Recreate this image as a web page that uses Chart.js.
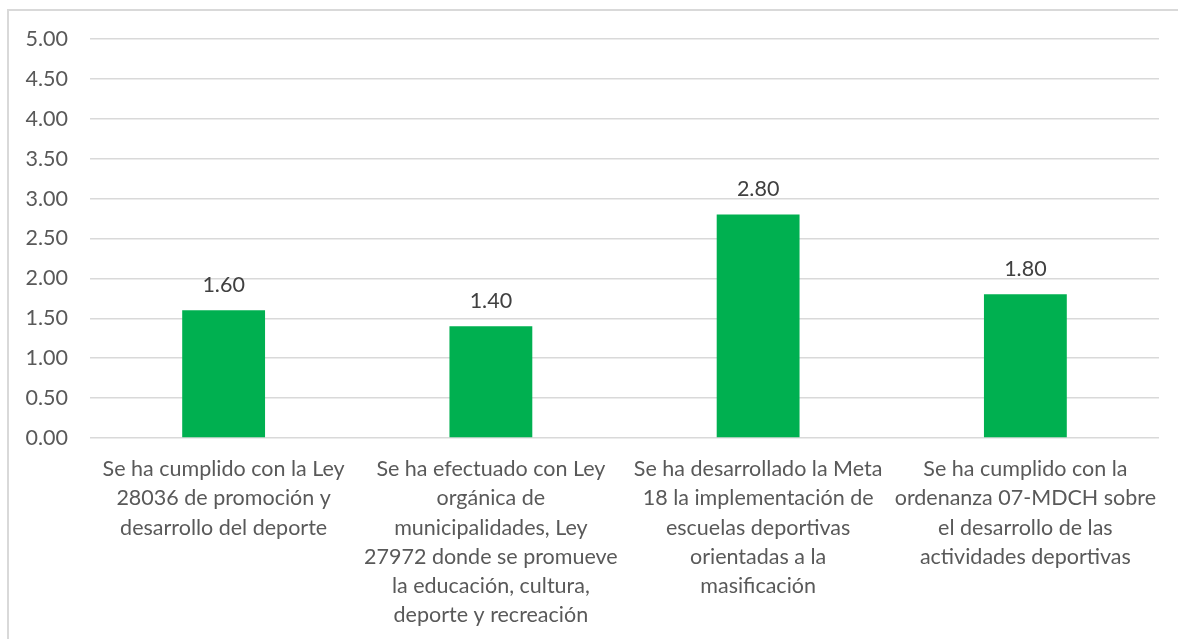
<!DOCTYPE html>
<html>
<head>
<meta charset="utf-8">
<script src="https://cdn.jsdelivr.net/npm/chart.js@4"></script>
<style>
  html, body { margin: 0; padding: 0; background: #fff; }
  #wrap { position: relative; width: 1178px; height: 639px; overflow: hidden; }
  #frame { position: absolute; left: 7px; top: 9px; width: 1180px; height: 700px; border: 2px solid #d9d9d9; box-sizing: border-box; }
  #myChart { position: absolute; left: 0; top: 0; }
</style>
</head>
<body>
<div id="wrap">
  <div id="frame"></div>
  <canvas id="myChart" width="1178" height="639"></canvas>
</div>
<script>
// datos del grafico
var categorias = [
  ["Se ha cumplido con la Ley", "28036 de promoción y", "desarrollo del deporte"],
  ["Se ha efectuado con Ley", "orgánica de", "municipalidades, Ley", "27972 donde se promueve", "la educación, cultura,", "deporte y recreación"],
  ["Se ha desarrollado la Meta", "18 la implementación de", "escuelas deportivas", "orientadas a la", "masificación"],
  ["Se ha cumplido con la", "ordenanza 07-MDCH sobre", "el desarrollo de las", "actividades deportivas"]
];
var valores = [1.60, 1.40, 2.80, 1.80];
var ejeMin = 0, ejeMax = 5, ejePaso = 0.5;

var fuente = "Lato, 'Liberation Sans', sans-serif";

// etiquetas encima de las barras
var etiquetas = {
  id: 'etiquetas',
  afterDatasetsDraw: function(chart) {
    var ctx = chart.ctx;
    var meta = chart.getDatasetMeta(0);
    ctx.save();
    ctx.font = "21.5px " + fuente;
    ctx.fillStyle = "#404040";
    ctx.textAlign = "center";
    ctx.textBaseline = "middle";
    meta.data.forEach(function(bar, i) {
      ctx.fillText(valores[i].toFixed(2), bar.x, bar.y - 25);
    });
    ctx.restore();
  }
};

var ctx = document.getElementById('myChart');
var myChart = new Chart(ctx, {
  type: 'bar',
  data: {
    labels: categorias,
    datasets: [{
      data: valores,
      backgroundColor: '#00b050',
      borderWidth: 0,
      categoryPercentage: 1,
      barPercentage: 0.31
    }]
  },
  options: {
    responsive: false,
    animation: false,
    layout: { padding: { top: 39, right: 19, left: 0, bottom: 0 } },
    plugins: { legend: { display: false }, tooltip: { enabled: false } },
    scales: {
      x: {
        grid: { display: false, drawTicks: false },
        border: { display: false },
        ticks: {
          color: '#595959',
          font: { family: fuente, size: 21.5, lineHeight: 1.35 },
          padding: 17,
          maxRotation: 0,
          autoSkip: false
        },
        afterFit: function(scale) { scale.height = 201; }
      },
      y: {
        min: ejeMin,
        max: ejeMax,
        grid: { color: '#d9d9d9', lineWidth: 1.5, drawTicks: false },
        border: { display: false },
        ticks: {
          stepSize: ejePaso,
          color: '#595959',
          font: { family: fuente, size: 21.5 },
          padding: 22,
          callback: function(v) { return v.toFixed(2); }
        },
        afterFit: function(scale) { scale.width = 90; }
      }
    }
  },
  plugins: [etiquetas]
});
</script>
</body>
</html>
